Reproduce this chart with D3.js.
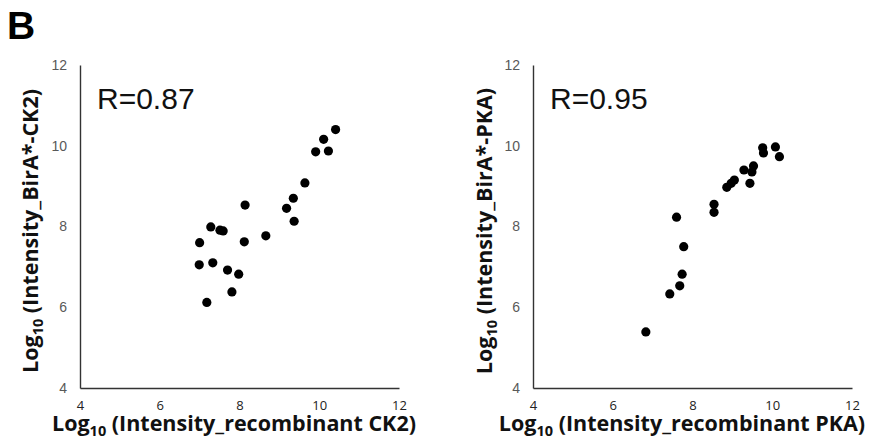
<!DOCTYPE html>
<html lang="en">
<head>
<meta charset="UTF-8">
<title>Panel B - kinase intensity correlation</title>
<script src="https://d3js.org/d3.v7.min.js"></script>
<style>
  body { margin: 0; background: #fff; }
  svg { display: block; }
</style>
</head>
<body>
<svg id="chart" width="872" height="441"></svg>
<script>
// log10 intensities
var ck2Recomb = [10.41, 10.11, 9.91, 10.23, 9.64, 9.35, 9.18, 9.37, 8.14, 8.66, 8.12,
                 7.28, 7.51, 7.59, 7.00, 6.99, 7.33, 7.70, 7.98, 7.81, 7.18];
var ck2BirA   = [10.40, 10.16, 9.85, 9.87, 9.08, 8.70, 8.45, 8.13, 8.53, 7.77, 7.62,
                 7.99, 7.91, 7.89, 7.60, 7.05, 7.10, 6.92, 6.82, 6.38, 6.12];
var pkaRecomb = [10.08, 9.76, 9.78, 10.18, 9.53, 9.29, 9.49, 9.44, 9.05, 8.97,
                 8.86, 8.54, 8.54, 7.60, 7.78, 7.74, 7.68, 7.43, 6.83];
var pkaBirA   = [9.97, 9.95, 9.82, 9.73, 9.50, 9.40, 9.35, 9.07, 9.15, 9.07,
                 8.97, 8.55, 8.35, 8.23, 7.50, 6.82, 6.53, 6.33, 5.39];
var axisTicks = [4, 6, 8, 10, 12];

var svg = d3.select("#chart");

svg.append("text")
  .attr("x", 7).attr("y", 39)
  .attr("font-family", "Liberation Sans, Arial, sans-serif")
  .attr("font-weight", "bold").attr("font-size", 39)
  .text("B");

function drawPanel(left, xs, ys, rLabel, xName, yName, xTitleX, yTitleX) {
  var top = 65, bottom = 388, width = 319;
  var x = d3.scaleLinear().domain([4, 12]).range([left, left + width]);
  var y = d3.scaleLinear().domain([4, 12]).range([bottom, top]);
  var g = svg.append("g");

  var ya = g.append("g").attr("transform", "translate(" + left + ",0)")
    .call(d3.axisLeft(y).tickValues(axisTicks).tickSizeInner(0).tickSizeOuter(0).tickPadding(13));
  ya.selectAll("text").attr("font-family", "Liberation Sans, Arial, sans-serif")
    .attr("font-size", 14).attr("fill", "#595959");

  var xa = g.append("g").attr("transform", "translate(0," + bottom + ")")
    .call(d3.axisBottom(x).tickValues(axisTicks).tickSizeInner(0).tickSizeOuter(0).tickPadding(13));
  xa.selectAll("text").attr("font-family", "Open Sans, sans-serif")
    .attr("font-size", 13).attr("fill", "#222");

  g.selectAll(".domain").attr("stroke", "#333").attr("stroke-width", 1.4);

  g.selectAll("circle").data(xs).enter().append("circle")
    .attr("cx", function(d) { return x(d); })
    .attr("cy", function(d, i) { return y(ys[i]); })
    .attr("r", 4.6)
    .attr("fill", "#000");

  g.append("text")
    .attr("x", left + 17).attr("y", 109)
    .attr("font-family", "Liberation Sans, Arial, sans-serif")
    .attr("font-size", 30).attr("fill", "#111")
    .text(rLabel);

  var xt = g.append("text")
    .attr("x", xTitleX).attr("y", 431)
    .attr("text-anchor", "middle")
    .attr("font-family", "Open Sans, sans-serif")
    .attr("font-weight", "bold").attr("font-size", 21.5).attr("fill", "#111");
  xt.append("tspan").text("Log");
  xt.append("tspan").attr("dy", 5).attr("font-size", 14.5).text("10");
  xt.append("tspan").attr("dy", -5).text(" (" + xName + ")");

  var yt = g.append("text")
    .attr("transform", "translate(" + yTitleX + ",231) rotate(-90)")
    .attr("text-anchor", "middle")
    .attr("font-family", "Open Sans, sans-serif")
    .attr("font-weight", "bold").attr("font-size", 21.5).attr("fill", "#111");
  yt.append("tspan").text("Log");
  yt.append("tspan").attr("dy", 5).attr("font-size", 14.5).text("10");
  yt.append("tspan").attr("dy", -5).text(" (" + yName + ")");
}

drawPanel(80, ck2Recomb, ck2BirA, "R=0.87", "Intensity_recombinant CK2", "Intensity_BirA*-CK2", 234, 38);
drawPanel(533, pkaRecomb, pkaBirA, "R=0.95", "Intensity_recombinant PKA", "Intensity_BirA*-PKA", 682, 492);
</script>
</body>
</html>
